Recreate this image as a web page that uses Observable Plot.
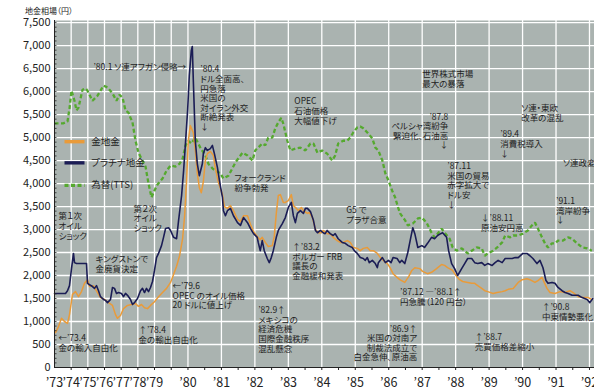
<!DOCTYPE html>
<html><head><meta charset="utf-8">
<script src="https://cdn.jsdelivr.net/npm/d3@7"></script>
<script src="https://cdn.jsdelivr.net/npm/@observablehq/plot@0.6"></script>
<style>
body{margin:0;background:#fff;}
#wrap{position:relative;width:594px;height:390px;overflow:hidden;}
#title{position:absolute;left:25px;top:5px;font-family:"Noto Sans CJK JP",sans-serif;font-size:8px;color:#222;font-feature-settings:"palt";}
svg text{font-feature-settings:"palt";}
</style></head><body>
<div id="wrap"><div id="title">地金相場（円）</div></div>
<script>
// ---- data (year, yen) ----
const gold = [[1973.06,760],[1973.24,890],[1973.42,1070],[1973.60,1000],[1973.78,960],[1973.90,1150],[1974.08,1590],[1974.26,1650],[1974.44,1540],[1974.62,1650],[1974.80,1830],[1974.98,1910],[1975.10,1760],[1975.34,1780],[1975.58,1630],[1975.76,1520],[1976.00,1480],[1976.24,1410],[1976.48,1350],[1976.66,1150],[1976.78,1070],[1976.96,1130],[1977.14,1280],[1977.38,1350],[1977.62,1370],[1977.86,1390],[1978.04,1330],[1978.22,1370],[1978.40,1300],[1978.58,1280],[1978.76,1350],[1979.00,1430],[1979.12,1540],[1979.24,1630],[1979.36,1720],[1979.48,1850],[1979.57,2020],[1979.66,2200],[1979.75,2430],[1979.84,2800],[1979.90,3300],[1979.96,4070],[1980.01,4930],[1980.07,5260],[1980.16,5110],[1980.22,4720],[1980.28,4220],[1980.34,3910],[1980.40,3800],[1980.46,4040],[1980.52,4500],[1980.58,4650],[1980.67,4700],[1980.76,4610],[1980.82,4330],[1980.91,4020],[1981.03,3760],[1981.09,3500],[1981.18,3460],[1981.27,3520],[1981.36,3410],[1981.48,3220],[1981.57,3170],[1981.66,3300],[1981.78,3300],[1981.87,3110],[1981.96,2960],[1982.07,2850],[1982.16,2780],[1982.22,2830],[1982.31,2720],[1982.40,2630],[1982.52,2650],[1982.58,2850],[1982.64,3350],[1982.70,3740],[1982.76,3760],[1982.85,3590],[1982.91,3590],[1983.00,3630],[1983.09,3760],[1983.15,3520],[1983.24,3460],[1983.30,3410],[1983.39,3480],[1983.45,3410],[1983.57,3350],[1983.63,3370],[1983.72,3260],[1983.81,3000],[1983.90,2930],[1983.99,2930],[1984.04,2980],[1984.16,2910],[1984.25,2910],[1984.34,2830],[1984.46,2760],[1984.55,2720],[1984.64,2720],[1984.76,2760],[1984.85,2720],[1984.94,2610],[1985.06,2590],[1985.15,2540],[1985.24,2590],[1985.36,2610],[1985.45,2540],[1985.54,2540],[1985.66,2480],[1985.75,2390],[1985.84,2330],[1985.96,2260],[1986.04,2170],[1986.13,2040],[1986.25,1960],[1986.33,1910],[1986.48,1850],[1986.60,1980],[1986.69,2110],[1986.78,2170],[1986.93,2150],[1987.01,2090],[1987.16,2040],[1987.28,2070],[1987.43,2150],[1987.58,2240],[1987.67,2220],[1987.76,2170],[1987.91,2110],[1988.03,1980],[1988.12,1910],[1988.21,1870],[1988.36,1850],[1988.48,1830],[1988.57,1830],[1988.66,1780],[1988.78,1720],[1988.87,1670],[1988.96,1650],[1989.12,1610],[1989.24,1630],[1989.39,1650],[1989.48,1670],[1989.57,1700],[1989.72,1720],[1989.87,1850],[1989.99,1910],[1990.13,1930],[1990.22,1910],[1990.37,1850],[1990.46,1890],[1990.58,1960],[1990.73,1720],[1990.82,1630],[1990.97,1610],[1991.12,1650],[1991.27,1630],[1991.42,1670],[1991.51,1630],[1991.66,1540],[1991.81,1520],[1991.96,1520],[1992.07,1480]];

const platinum = [[1973.00,1610],[1973.66,1610],[1973.78,1670],[1973.90,1780],[1974.02,2150],[1974.14,2480],[1974.20,2280],[1974.32,2260],[1974.56,2260],[1974.92,2260],[1974.98,1830],[1975.10,1800],[1975.28,1760],[1975.40,1720],[1975.52,1780],[1975.64,1670],[1975.76,1540],[1975.94,1480],[1976.06,1460],[1976.18,1410],[1976.36,1480],[1976.48,1740],[1976.60,1720],[1976.72,1610],[1976.84,1630],[1977.02,1610],[1977.14,1540],[1977.26,1610],[1977.38,1570],[1977.56,1480],[1977.68,1370],[1977.80,1410],[1977.98,1500],[1978.16,1670],[1978.28,1720],[1978.40,1630],[1978.52,1720],[1978.64,1650],[1978.76,1740],[1978.88,1870],[1979.00,2110],[1979.06,2390],[1979.12,2480],[1979.21,2650],[1979.27,2830],[1979.33,3020],[1979.42,3040],[1979.48,2980],[1979.57,2830],[1979.66,2800],[1979.72,3200],[1979.81,3740],[1979.87,4280],[1979.93,4930],[1979.99,5590],[1980.04,6350],[1980.10,6890],[1980.13,6980],[1980.16,6240],[1980.19,5590],[1980.22,4930],[1980.28,4430],[1980.34,4170],[1980.43,4430],[1980.46,4650],[1980.52,4780],[1980.58,4720],[1980.67,4760],[1980.73,4830],[1980.79,4650],[1980.88,4350],[1980.94,4070],[1981.03,3700],[1981.06,3410],[1981.12,3300],[1981.18,3410],[1981.27,3460],[1981.36,3300],[1981.48,3150],[1981.57,3090],[1981.66,3260],[1981.78,3150],[1981.87,3020],[1981.96,2910],[1982.07,2830],[1982.10,2720],[1982.16,2540],[1982.22,2760],[1982.28,2540],[1982.37,2370],[1982.43,2280],[1982.49,2390],[1982.55,2540],[1982.64,2830],[1982.70,2980],[1982.82,3130],[1982.91,3260],[1983.00,3480],[1983.09,3590],[1983.15,3300],[1983.21,3150],[1983.27,3350],[1983.36,3410],[1983.45,3350],[1983.51,3460],[1983.57,3460],[1983.66,3390],[1983.75,3200],[1983.81,2980],[1983.87,2930],[1983.96,2980],[1984.04,2930],[1984.10,2910],[1984.16,2980],[1984.25,2910],[1984.34,2870],[1984.40,2910],[1984.49,2800],[1984.61,2720],[1984.70,2700],[1984.79,2650],[1984.91,2610],[1984.97,2540],[1985.06,2480],[1985.15,2390],[1985.24,2370],[1985.30,2330],[1985.36,2390],[1985.42,2280],[1985.51,2330],[1985.60,2260],[1985.66,2170],[1985.69,2280],[1985.81,2390],[1985.90,2280],[1985.99,2330],[1986.07,2280],[1986.13,2390],[1986.25,2370],[1986.33,2280],[1986.39,2330],[1986.48,2260],[1986.57,2500],[1986.66,2830],[1986.72,3040],[1986.78,2910],[1986.87,2610],[1986.99,2650],[1987.07,2610],[1987.16,2700],[1987.28,2830],[1987.37,2800],[1987.46,2870],[1987.55,2910],[1987.61,2930],[1987.73,2830],[1987.79,2540],[1987.88,2260],[1987.97,2150],[1988.06,2000],[1988.18,2150],[1988.27,2260],[1988.36,2370],[1988.48,2370],[1988.57,2280],[1988.66,2260],[1988.78,2280],[1988.87,2220],[1988.96,2260],[1989.09,2220],[1989.18,2280],[1989.27,2330],[1989.39,2280],[1989.48,2370],[1989.57,2370],[1989.69,2370],[1989.78,2390],[1989.87,2390],[1990.01,2480],[1990.13,2480],[1990.22,2430],[1990.31,2370],[1990.43,2260],[1990.52,2330],[1990.61,2170],[1990.70,1890],[1990.76,1830],[1990.88,1850],[1990.97,1830],[1991.06,1740],[1991.18,1670],[1991.27,1630],[1991.36,1610],[1991.48,1570],[1991.57,1570],[1991.66,1570],[1991.78,1520],[1991.93,1480],[1992.01,1410],[1992.10,1500]];

const tts = [[1973.00,5310],[1973.54,5310],[1973.78,5350],[1973.90,5630],[1974.02,6020],[1974.20,5800],[1974.32,5590],[1974.44,5650],[1974.68,6040],[1974.86,6070],[1974.98,6020],[1975.28,5800],[1975.58,5910],[1975.94,6130],[1976.18,6090],[1976.48,5960],[1976.72,5800],[1976.90,5930],[1977.08,5870],[1977.26,5590],[1977.44,5540],[1977.56,5430],[1977.68,5330],[1977.86,4930],[1978.04,4670],[1978.22,4540],[1978.46,4370],[1978.64,4000],[1978.82,3700],[1979.00,3850],[1979.09,3980],[1979.24,4110],[1979.36,4280],[1979.48,4390],[1979.63,4370],[1979.75,4430],[1979.84,4540],[1979.93,4830],[1980.01,4930],[1980.10,4870],[1980.22,5000],[1980.37,4780],[1980.52,4610],[1980.61,4430],[1980.73,4330],[1980.82,4280],[1980.97,4220],[1981.06,4110],[1981.21,4170],[1981.42,4460],[1981.63,4670],[1981.78,4610],[1981.93,4500],[1982.01,4720],[1982.10,4780],[1982.22,4870],[1982.31,4830],[1982.40,5000],[1982.52,5000],[1982.61,5200],[1982.70,5330],[1982.79,5430],[1982.85,5300],[1982.97,4930],[1983.06,4720],[1983.21,4760],[1983.36,4780],[1983.51,4720],[1983.66,4870],[1983.75,4870],[1983.87,4670],[1984.01,4720],[1984.16,4650],[1984.31,4500],[1984.40,4610],[1984.49,4870],[1984.64,4930],[1984.76,4930],[1984.85,5000],[1984.94,5110],[1985.06,5220],[1985.15,5240],[1985.24,5200],[1985.36,5110],[1985.51,4980],[1985.60,4780],[1985.69,4720],[1985.81,4500],[1985.90,4220],[1985.99,4070],[1986.10,3850],[1986.19,3700],[1986.28,3480],[1986.34,3350],[1986.49,3200],[1986.57,3090],[1986.72,3130],[1986.87,3240],[1986.99,3260],[1987.13,3150],[1987.28,2930],[1987.37,2830],[1987.46,2910],[1987.58,3020],[1987.67,2930],[1987.82,2800],[1987.91,2610],[1988.03,2540],[1988.18,2590],[1988.27,2540],[1988.36,2480],[1988.48,2540],[1988.63,2610],[1988.78,2590],[1988.87,2430],[1988.96,2480],[1989.12,2540],[1989.24,2610],[1989.39,2720],[1989.48,2870],[1989.63,2830],[1989.72,2870],[1989.87,2870],[1990.01,2910],[1990.16,2980],[1990.28,3090],[1990.37,3150],[1990.46,3020],[1990.58,2830],[1990.67,2700],[1990.76,2610],[1990.88,2700],[1990.97,2700],[1991.06,2760],[1991.21,2760],[1991.36,2830],[1991.48,2800],[1991.63,2700],[1991.78,2610],[1991.93,2590],[1992.07,2540]];

const yTicks = [0,500,1000,1500,2000,2500,3000,3500,4000,4500,5000,5500,6000,6500,7000,7500];
const yearTicks = [1973,1974,1975,1976,1977,1978,1979,1980,1981,1982,1983,1984,1985,1986,1987,1988,1989,1990,1991,1992];
const xGrid = [1974,1975,1976,1977,1978,1979,1979.5,1980,1981,1982,1983,1984,1985,1986,1987,1988,1989,1990,1991,1992];
const xMinor = [1974,1975,1976,1977,1978,1979,1979.5,1980,1980.5,1981,1981.5,1982,1982.5,1983,1983.5,1984,1984.5,1985,1985.5,1986,1986.5,1987,1987.5,1988,1988.5,1989,1989.5,1990,1990.5,1991,1991.5,1992];
const yMinor = d3.range(100, 7600, 100);

const legendLabels = ["金地金", "プラチナ地金", "為替(TTS)"];
const legendColors = ["#e99b3a", "#1b1d55", "#55a92f"];
const legendDash = [null, null, "4,2.5"];
const legendY = [4910, 4450, 3960];
const legendX = [1973.6, 1974.8, 1975.2];

const annoLeft = [
 [1975.34, 6610, "’80.1 ソ連アフガン侵略→"],
 [1980.37, 6565, "’80.4\nドル全面高、\n円急落\n米国の\n対イラン外交\n断絶発表\n↓"],
 [1983.18, 5870, "OPEC\n石油価格\n大幅値下げ"],
 [1981.39, 4200, "フォークランド\n紛争勃発"],
 [1984.73, 3500, "G5 で\nプラザ合意"],
 [1983.12, 2700, "↑’83.2\nボルガー FRB\n議長の\n金融緩和発表"],
 [1982.10, 1330, "’82.9↑\nメキシコの\n経済危機\n国際金融秩序\n混乱懸念"],
 [1979.54, 1850, "←’79.6\nOPEC のオイル価格\n20 ドルに値上げ"],
 [1978.04, 890, "↑’78.4\n金の輸出自由化"],
 [1973.24, 720, "←’73.4\n金の輸入自由化"],
 [1975.46, 2435, "キングストンで\n金廃貨決定"],
 [1973.24, 3370, "第１次\nオイル\nショック"],
 [1977.74, 3540, "第２次\nオイル\nショック"],
 [1987.0, 6460, "世界株式市場\n最大の暴落"],
 [1987.75, 4460, "’87.11\n米国の貿易\n赤字拡大で\nドル安\n↓"],
 [1989.33, 5150, "’89.4\n消費税導入\n↓"],
 [1989.96, 5720, "ソ連・東欧\n改革の混乱"],
 [1991.21, 4520, "ソ連政変"],
 [1988.76, 3330, "↓’88.11\n原油安円高"],
 [1991.0, 3700, "’91.1\n湾岸紛争\n↓"],
 [1986.34, 1720, "’87.12 ―’88.1↑\n円急騰（120 円台）"],
 [1990.58, 1390, "↑’90.8\n中東情勢悪化"],
 [1988.57, 740, "↑’88.7\n売買価格差縮小"]
];
const annoRight = [
 [1987.78, 5540, "’87.8\nペルシャ湾紛争\n緊迫化、石油高\n↓"],
 [1986.85, 930, "’86.9↑\n米国の対南ア\n制裁法成立で\n白金急伸、原油高"]
];

const font = '"Noto Sans CJK JP", sans-serif';
const idx = a => d3.range(a.length);

const chart = Plot.plot({
  width: 594, height: 390,
  marginLeft: 54, marginRight: 0, marginTop: 20, marginBottom: 23,
  style: {fontFamily: font, fontSize: "8.5px", color: "#222", background: "transparent"},
  x: {type: "linear", domain: [1973, 1979, 1992.15], range: [54, 154, 594]},
  y: {domain: [0, 7545]},
  marks: [
    Plot.frame({fill: "#aab3b0", stroke: null}),
    Plot.ruleY(yTicks.filter(d => d > 0), {stroke: "#fff", strokeWidth: 1.3}),
    Plot.ruleX(xGrid, {stroke: "#fff", strokeWidth: 1.3}),
    Plot.line(tts, {x: "0", y: "1", stroke: legendColors[2], strokeWidth: 2.3, strokeDasharray: legendDash[2], strokeLinecap: "butt", strokeLinejoin: "miter"}),
    Plot.line(gold, {x: "0", y: "1", stroke: legendColors[0], strokeWidth: 1.5}),
    Plot.line(platinum, {x: "0", y: "1", stroke: legendColors[1], strokeWidth: 1.6}),
    Plot.ruleX([1973], {stroke: "#222", strokeWidth: 1}),
    Plot.ruleY([0], {stroke: "#222", strokeWidth: 1}),
    Plot.axisY({ticks: yTicks, tickSize: 0, tickPadding: 4, tickFormat: d3.format(","), fontSize: 11, label: null}),
    Plot.ruleY(yMinor, {x1: 1973, x2: 1973.15, stroke: "#222", strokeWidth: 0.8}),
    Plot.axisX({ticks: yearTicks, tickSize: 0, tickPadding: 11, tickFormat: d => "’" + String(d).slice(2), fontSize: 12.5, label: null}),
    Plot.axisX({ticks: xMinor, tickSize: 3, tickFormat: () => "", label: null, stroke: "#222"}),
    // legend
    ...idx(legendLabels).map(i => Plot.link([i], {x1: legendX[0], x2: legendX[1], y1: legendY[i], y2: legendY[i], stroke: legendColors[i], strokeWidth: 3.4, strokeDasharray: legendDash[i], strokeLinecap: "butt"})),
    Plot.text(idx(legendLabels), {x: legendX[2], y: i => legendY[i], text: i => legendLabels[i], textAnchor: "start", fontSize: 9.5, fill: "#222"}),
    // annotations
    Plot.text(annoLeft, {x: "0", y: "1", text: "2", textAnchor: "start", lineAnchor: "top", lineHeight: 1.13, fontSize: 8.5, fill: "#222"}),
    Plot.text(annoRight, {x: "0", y: "1", text: "2", textAnchor: "end", lineAnchor: "top", lineHeight: 1.13, fontSize: 8.5, fill: "#222"})
  ]
});
document.getElementById("wrap").appendChild(chart);
</script>
</body></html>
